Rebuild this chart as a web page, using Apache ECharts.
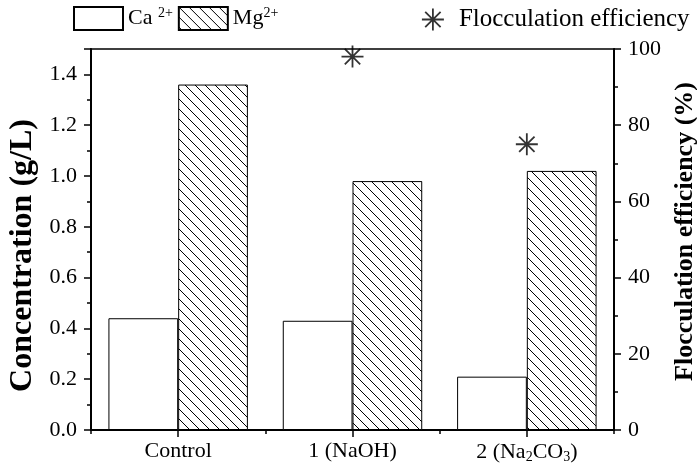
<!DOCTYPE html>
<html><head><meta charset="utf-8">
<script src="https://cdn.jsdelivr.net/npm/echarts@6/dist/echarts.min.js"></script>
<style>html,body{margin:0;padding:0;background:#fff}#c{width:697px;height:465px}</style>
</head><body><div id="c"></div>
<script>
const categories = ['Control', '1 (NaOH)', '2 (Na2CO3)'];
const caValues = [0.44, 0.43, 0.21];
const mgValues = [1.36, 0.98, 1.02];
const flocValues = [null, 98, 75];

function hatch() {
  const c = document.createElement('canvas');
  c.width = 10; c.height = 10;
  const g = c.getContext('2d');
  g.fillStyle = '#fff'; g.fillRect(0, 0, 10, 10);
  g.strokeStyle = '#000'; g.lineWidth = 1;
  g.beginPath();
  g.moveTo(0, 0); g.lineTo(10, 10);
  g.moveTo(-5, 5); g.lineTo(5, 15);
  g.moveTo(5, -5); g.lineTo(15, 5);
  g.stroke();
  return c;
}
const FONT = 'Liberation Serif';
const star = 'path://M0,-10L0,10M-10,0L10,0M-7,-7L7,7M-7,7L7,-7';
const rich = {
  sub: { fontSize: 14, fontFamily: FONT, color: '#000', padding: [10, 0, 0, 0] },
  n: { fontSize: 22, fontFamily: FONT, color: '#000' },
  L: { fontSize: 22, fontFamily: FONT, color: '#000' },
  Lsup: { fontSize: 14, fontFamily: FONT, color: '#000', padding: [0, 0, 10, 0] }
};
const chart = echarts.init(document.getElementById('c'));
chart.setOption({
  backgroundColor: '#fff',
  animation: false,
  grid: { left: 91, right: 83, top: 49, bottom: 35, show: true, borderColor: '#000', borderWidth: 1.5,
          containLabel: false, outerBoundsMode: 'none' },
  legend: [
    { data: ['Ca2+', 'Mg2+'], left: 73, top: 6, padding: 0, itemWidth: 49, itemHeight: 23, itemGap: 5, icon: 'rect',
      textStyle: { fontSize: 22, fontFamily: FONT, color: '#000', rich: rich },
      formatter: n => n === 'Ca2+' ? '{L|Ca }{Lsup|2+}' : '{L|Mg}{Lsup|2+}' },
    { data: ['Flocculation efficiency'], left: 421, top: 7, padding: 0, itemWidth: 22, itemHeight: 22,
      icon: star, itemStyle: { color: 'rgba(0,0,0,0)', borderColor: '#000', borderWidth: 1.8 },
      textStyle: { fontSize: 25, fontFamily: FONT, color: '#000', padding: [0, 0, 0, 10] } }
  ],
  xAxis: [
    { type: 'category', data: categories, position: 'bottom',
      axisLine: { lineStyle: { color: '#000', width: 2 } },
      axisTick: { show: true, alignWithLabel: false, length: 4, lineStyle: { color: '#000', width: 1.5 } },
      axisLabel: { interval: 0, fontSize: 22, fontFamily: FONT, color: '#000', margin: 10, rich: rich,
        formatter: v => v === '2 (Na2CO3)' ? '{n|2 (Na}{sub|2}{n|CO}{sub|3}{n|)}' : '{n|' + v + '}' } },
    { type: 'category', data: categories, position: 'bottom',
      axisLine: { show: false },
      axisTick: { show: true, alignWithLabel: true, length: 7, lineStyle: { color: '#000', width: 1.5 } },
      axisLabel: { show: false } }
  ],
  yAxis: [
    { type: 'value', min: 0, max: 1.5, interval: 0.2, position: 'left',
      name: 'Concentration (g/L)', nameLocation: 'middle', nameGap: 44,
      nameTextStyle: { fontSize: 32, fontWeight: 'bold', fontFamily: FONT, color: '#000', padding: [0, 32, 0, 0] },
      axisLine: { show: true, lineStyle: { color: '#000', width: 2 } },
      axisTick: { show: true, length: 7, lineStyle: { color: '#000', width: 1.5 } },
      minorTick: { show: true, splitNumber: 2, length: 4, lineStyle: { color: '#000', width: 1.5 } },
      splitLine: { show: false },
      axisLabel: { fontSize: 22, fontFamily: FONT, color: '#000', margin: 14, formatter: v => v.toFixed(1), showMaxLabel: false } },
    { type: 'value', min: 0, max: 100, interval: 20, position: 'right',
      name: 'Flocculation efficiency (%)', nameLocation: 'middle', nameGap: 57, nameRotate: 90,
      nameTextStyle: { fontSize: 26, fontWeight: 'bold', fontFamily: FONT, color: '#000', padding: [0, 0, 0, 16] },
      axisLine: { show: true, lineStyle: { color: '#000', width: 2 } },
      axisTick: { show: true, length: 7, lineStyle: { color: '#000', width: 1.5 } },
      minorTick: { show: true, splitNumber: 2, length: 4, lineStyle: { color: '#000', width: 1.5 } },
      splitLine: { show: false },
      axisLabel: { fontSize: 22, fontFamily: FONT, color: '#000', margin: 14 } }
  ],
  series: [
    { name: 'Ca2+', type: 'bar', data: caValues, barWidth: '40%', barGap: '0%',
      itemStyle: { color: '#fff', borderColor: '#000', borderWidth: 1 } },
    { name: 'Mg2+', type: 'bar', data: mgValues, barWidth: '40%', barGap: '0%',
      itemStyle: { color: { image: hatch(), repeat: 'repeat' }, borderColor: '#000', borderWidth: 1 } },
    { name: 'Flocculation efficiency', type: 'scatter', yAxisIndex: 1, data: flocValues,
      symbol: star, symbolSize: 22,
      itemStyle: { color: 'rgba(0,0,0,0)', borderColor: '#000', borderWidth: 1.8 } }
  ]
});
</script></body></html>
